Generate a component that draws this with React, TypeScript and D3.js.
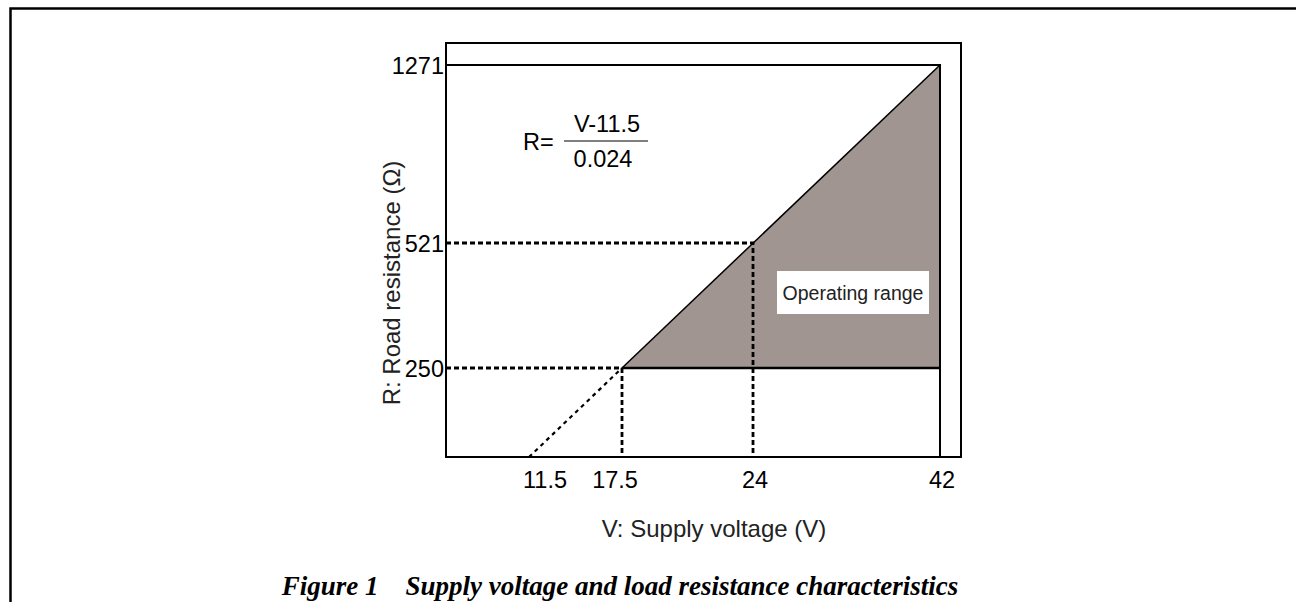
import React, { useEffect, useRef } from "react";
import * as d3 from "d3";

// values
const vTicks = [11.5, 17.5, 24, 42];
const rTicks = [250, 521, 1271];
const vOffset = 11.5; // R = (V - 11.5) / 0.024
const vLow = 17.5;
const vMid = 24;
const vHigh = 42;
const rLow = 250;
const rMid = 521;
const rHigh = 1271;
const formulaTop = "V-11.5";
const formulaBottom = "0.024";

export default function App() {
  const ref = useRef<SVGSVGElement>(null);

  useEffect(() => {
    const svg = d3.select(ref.current);
    svg.selectAll("*").remove();

    const width = 1296;
    const height = 602;
    svg.attr("width", width).attr("height", height);

    const font = "Arial, 'Liberation Sans', sans-serif";

    // the figure is schematic, so the axes are piecewise linear
    const x = d3.scaleLinear()
      .domain([6, vOffset, vLow, vMid, vHigh, 43.6])
      .range([446, 529, 622, 753, 940, 961]);
    const y = d3.scaleLinear()
      .domain([0, rLow, rMid, rHigh, 1365])
      .range([457, 368, 243, 65, 43]);

    // page border
    svg.append("path")
      .attr("d", `M10.5,${height} L10.5,8.5 L${width},8.5`)
      .attr("fill", "none")
      .attr("stroke", "#000")
      .attr("stroke-width", 2.5);

    // operating range
    svg.append("path")
      .attr("d", d3.line<[number, number]>()([
        [x(vLow), y(rLow)],
        [x(vHigh), y(rHigh)],
        [x(vHigh), y(rLow)],
      ]) + "Z")
      .attr("fill", "#a19591");

    // outer frame
    svg.append("rect")
      .attr("x", x(6))
      .attr("y", y(1365))
      .attr("width", x(43.6) - x(6))
      .attr("height", y(0) - y(1365))
      .attr("fill", "none")
      .attr("stroke", "#000")
      .attr("stroke-width", 2);

    const solid = (pts: [number, number][], w = 2) =>
      svg.append("path")
        .attr("d", d3.line()(pts.map(([v, r]) => [x(v), y(r)])))
        .attr("fill", "none")
        .attr("stroke", "#000")
        .attr("stroke-width", w);

    const dashed = (pts: [number, number][]) =>
      solid(pts, 2.8).attr("stroke-dasharray", "5,3");

    // upper limit and right limit
    solid([[6, rHigh], [vHigh, rHigh], [vHigh, 0]]);
    // lower limit
    solid([[vLow, rLow], [vHigh, rLow]], 2.5);
    // characteristic line
    solid([[vLow, rLow], [vHigh, rHigh]], 1.5);
    svg.append("path")
      .attr("d", d3.line()([[x(vOffset), y(0)], [x(vLow), y(rLow)]]))
      .attr("stroke", "#000")
      .attr("stroke-width", 2.2)
      .attr("stroke-dasharray", "4,4");

    // guide lines
    dashed([[6, rLow], [vLow, rLow], [vLow, 0]]);
    dashed([[6, rMid], [vMid, rMid], [vMid, 0]]);

    // tick labels
    svg.append("g")
      .selectAll("text")
      .data(rTicks)
      .join("text")
      .attr("x", x(6) - 2)
      .attr("y", d => y(d) + 9)
      .attr("text-anchor", "end")
      .attr("font-family", font)
      .attr("font-size", 23.5)
      .text(d => d);

    // the labels are not quite centred under their ticks in the original
    const labelShift = (d: number) => (d === vOffset ? 16 : d === vLow ? -7 : 2);
    svg.append("g")
      .selectAll("text")
      .data(vTicks)
      .join("text")
      .attr("x", d => x(d) + labelShift(d))
      .attr("y", 488)
      .attr("text-anchor", "middle")
      .attr("font-family", font)
      .attr("font-size", 23.5)
      .text(d => d);

    // axis titles
    svg.append("text")
      .attr("x", 714)
      .attr("y", 537)
      .attr("text-anchor", "middle")
      .attr("font-family", font)
      .attr("font-size", 24)
      .attr("fill", "#222")
      .text("V: Supply voltage (V)");

    svg.append("text")
      .attr("transform", "translate(400,283) rotate(-90)")
      .attr("text-anchor", "middle")
      .attr("font-family", font)
      .attr("font-size", 24)
      .attr("fill", "#222")
      .text("R: Road resistance (Ω)");

    // formula
    const f = svg.append("g").attr("font-family", font).attr("font-size", 23.5);
    f.append("text").attr("x", 523).attr("y", 150).text("R=");
    f.append("text").attr("x", 607).attr("y", 132).attr("text-anchor", "middle").text(formulaTop);
    f.append("line")
      .attr("x1", 564).attr("x2", 648)
      .attr("y1", 141).attr("y2", 141)
      .attr("stroke", "#000").attr("stroke-width", 1.2);
    f.append("text").attr("x", 603).attr("y", 167).attr("text-anchor", "middle").text(formulaBottom);

    // operating range label
    svg.append("rect")
      .attr("x", 777).attr("y", 271)
      .attr("width", 152).attr("height", 43)
      .attr("fill", "#fff");
    svg.append("text")
      .attr("x", 853)
      .attr("y", 300)
      .attr("text-anchor", "middle")
      .attr("font-family", font)
      .attr("font-size", 19.5)
      .attr("fill", "#222")
      .text("Operating range");

    // caption
    svg.append("text")
      .attr("x", 620)
      .attr("y", 595)
      .attr("text-anchor", "middle")
      .attr("font-family", "'Liberation Serif', 'Times New Roman', serif")
      .attr("font-size", 27)
      .attr("font-weight", "bold")
      .attr("font-style", "italic")
      .attr("xml:space", "preserve")
      .text("Figure 1    Supply voltage and load resistance characteristics");
  }, []);

  return <svg ref={ref} style={{ position: "absolute", left: 0, top: 0 }}></svg>;
}
